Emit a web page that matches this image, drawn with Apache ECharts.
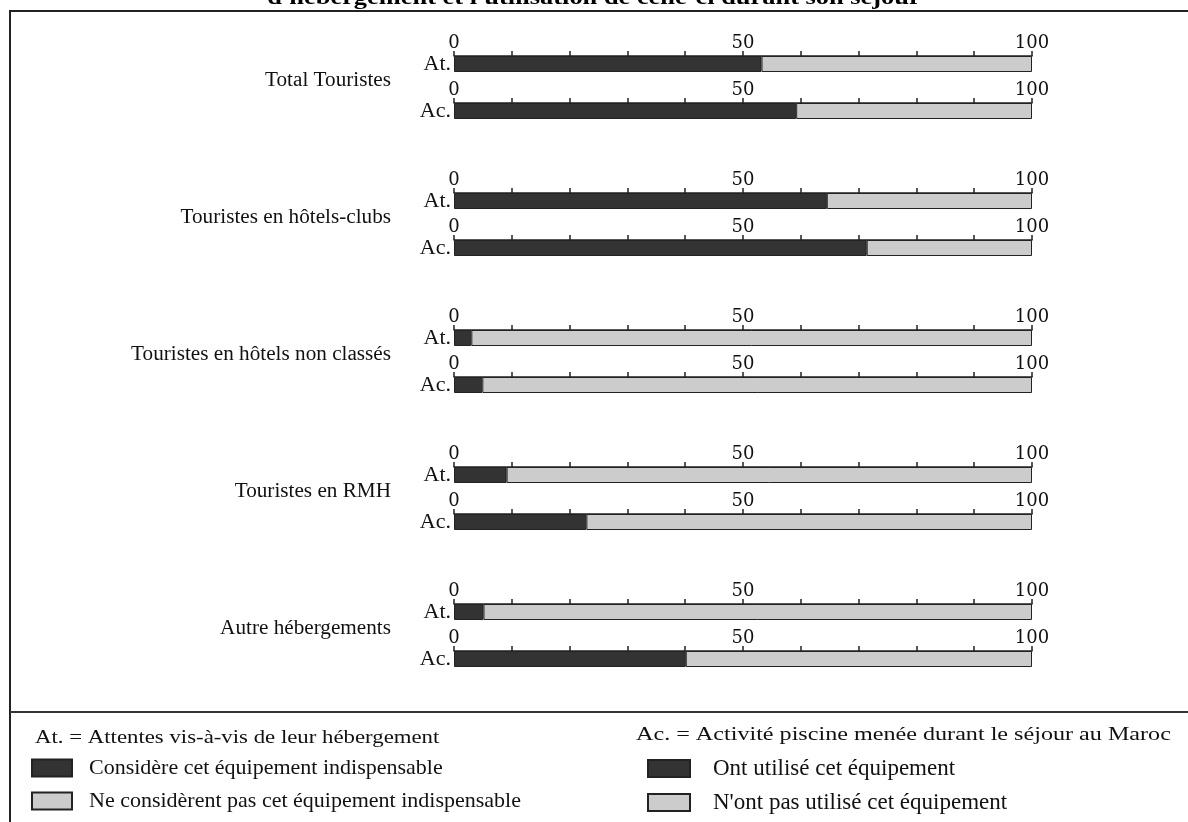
<!DOCTYPE html>
<html>
<head>
<meta charset="utf-8">
<script src="https://cdn.jsdelivr.net/npm/echarts@6/dist/echarts.min.js"></script>
<style>
  html, body { margin: 0; padding: 0; background: #fff; }
  #chart { width: 1188px; height: 822px; }
</style>
</head>
<body>
<div id="chart"></div>
<script>
// données (%)
var groups = ['Total Touristes', 'Touristes en hôtels-clubs', 'Touristes en hôtels non classés', 'Touristes en RMH', 'Autre hébergements']
var rowLabels = ['At.', 'Ac.']
var attentes = [53.2, 64.5, 3.0, 9.1, 5.1]   // considère indispensable
var activite = [59.2, 71.4, 4.9, 22.9, 40.1] // ont utilisé
var tickLabels = [0, 50, 100]
var legendAt = ['Considère cet équipement indispensable', 'Ne considèrent pas cet équipement indispensable']
var legendAc = ['Ont utilisé cet équipement', "N'ont pas utilisé cet équipement"]
var titleText = "d'hébergement et l'utilisation de celle-ci durant son séjour"
var headerAt = 'At. = Attentes vis-à-vis de leur hébergement'
var headerAc = 'Ac. = Activité piscine menée durant le séjour au Maroc'

var serif = '"Liberation Serif", "DejaVu Serif", serif'
var dark = '#333333'
var light = '#cccccc'
var edge = '#222222'

var chart = echarts.init(document.getElementById('chart'))

var grids = []
var xAxes = []
var yAxes = []
var series = []
var graphics = []

groups.forEach(function (g, gi) {
  var groupTop = 56 + gi * 137
  var rows = [attentes[gi], activite[gi]]
  var names = [legendAt, legendAc]
  rows.forEach(function (v, ri) {
    var idx = gi * 2 + ri
    grids.push({ left: 454, width: 578, top: groupTop + ri * 47, height: 16 })
    xAxes.push({
      gridIndex: idx,
      type: 'value',
      position: 'top',
      min: 0,
      max: 100,
      interval: 10,
      splitLine: { show: false },
      axisLine: { show: true, lineStyle: { color: edge, width: 1.5 } },
      axisTick: { show: true, length: 5, lineStyle: { color: edge, width: 1.5 } },
      axisLabel: {
        margin: 4,
        color: '#111',
        fontFamily: '"DejaVu Serif", serif',
        fontSize: 18,
        formatter: function (val) {
          return tickLabels.indexOf(val) >= 0 ? String(val) : ''
        }
      }
    })
    yAxes.push({
      gridIndex: idx,
      type: 'category',
      data: [rowLabels[ri]],
      axisLine: { show: false },
      axisTick: { show: false },
      axisLabel: { margin: 3, color: '#111', fontFamily: serif, fontSize: 22 }
    })
    series.push({
      name: names[ri][0],
      type: 'bar',
      stack: 's' + idx,
      xAxisIndex: idx,
      yAxisIndex: idx,
      barWidth: '100%',
      silent: true,
      itemStyle: { color: dark, borderColor: edge, borderWidth: 1 },
      data: [v]
    })
    series.push({
      name: names[ri][1],
      type: 'bar',
      stack: 's' + idx,
      xAxisIndex: idx,
      yAxisIndex: idx,
      barWidth: '100%',
      silent: true,
      itemStyle: { color: light, borderColor: edge, borderWidth: 1 },
      data: [+(100 - v).toFixed(1)]
    })
  })
  // libellé du groupe
  graphics.push({
    type: 'text',
    x: 391,
    y: groupTop + 25,
    scaleX: 1.06,
    style: { text: g, font: '20px ' + serif, fill: '#111', align: 'right', verticalAlign: 'middle' }
  })
})

// cadre + séparation de la légende
graphics.push({
  type: 'rect',
  shape: { x: 10, y: 11, width: 1200, height: 830 },
  style: { fill: null, stroke: '#222', lineWidth: 2 },
  z: -1
})
graphics.push({
  type: 'line',
  shape: { x1: 10, y1: 712, x2: 1188, y2: 712 },
  style: { stroke: '#333', lineWidth: 2 }
})
graphics.push({
  type: 'text', x: 35, y: 738, scaleX: 1.2,
  style: { text: headerAt, font: '19px ' + serif, fill: '#111', align: 'left', verticalAlign: 'middle' }
})
graphics.push({
  type: 'text', x: 636, y: 735, scaleX: 1.27,
  style: { text: headerAc, font: '19px ' + serif, fill: '#111', align: 'left', verticalAlign: 'middle' }
})
graphics.push({
  type: 'text', x: 594, y: -2, scaleX: 1.2,
  style: { text: titleText, font: 'bold 22px ' + serif, fill: '#000', align: 'center', verticalAlign: 'middle' }
})

chart.setOption({
  backgroundColor: '#fff',
  animation: false,
  graphic: graphics,
  legend: [
    {
      data: legendAt, orient: 'vertical', left: 31, top: 757, padding: 0,
      itemWidth: 40, itemHeight: 17, itemGap: 11, selectedMode: false,
      icon: 'rect',
      textStyle: { fontFamily: serif, fontSize: 22, color: '#111', padding: [0, 0, 0, 12] }
    },
    {
      data: legendAc, orient: 'vertical', left: 647, top: 757, padding: 0,
      itemWidth: 42, itemHeight: 17, itemGap: 11, selectedMode: false,
      icon: 'rect',
      textStyle: { fontFamily: serif, fontSize: 23, color: '#111', padding: [0, 0, 0, 18] }
    }
  ],
  grid: grids,
  xAxis: xAxes,
  yAxis: yAxes,
  series: series
})
</script>
</body>
</html>
